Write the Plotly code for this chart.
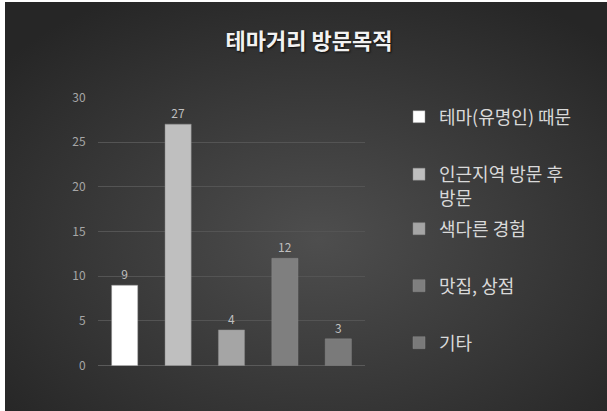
import base64
import plotly.graph_objects as go

W, H = 607, 411

categories = ["테마(유명인) 때문", "인근지역 방문 후<br>방문", "색다른 경험", "맛집, 상점", "기타"]
values = [9, 27, 4, 12, 3]
colors = ["#ffffff", "#bfbfbf", "#a5a5a5", "#7f7f7f", "#7a7a7a"]
y_ticks = [0, 5, 10, 15, 20, 25, 30]
x_keys = ["c1", "c2", "c3", "c4", "c5"]
title_text = "테마거리 방문목적"

# background radial gradient as an SVG image
svg = (
    '<svg xmlns="http://www.w3.org/2000/svg" width="602" height="409" preserveAspectRatio="none">'
    '<defs><radialGradient id="g" cx="52%" cy="58%" r="68%">'
    '<stop offset="0%" stop-color="#4e4e4e"/>'
    '<stop offset="100%" stop-color="#262626"/>'
    '</radialGradient></defs>'
    '<rect width="602" height="409" fill="url(#g)"/></svg>'
)
src = "data:image/svg+xml;base64," + base64.b64encode(svg.encode()).decode()

fig = go.Figure()

legend_y = [117, 172, 229, 286, 343]
legend_names = ["legend", "legend2", "legend3", "legend4", "legend5"]

for i, (cat, val, col) in enumerate(zip(categories, values, colors)):
    fig.add_trace(go.Bar(
        x=[x_keys[i]], y=[val], name=cat,
        marker=dict(color=col, line=dict(color="rgba(140,140,140,0.6)", width=0.8)),
        width=0.49,
        text=[str(val)], textposition="outside", cliponaxis=False,
        textfont=dict(color="#bfbfbf", size=12, family="Noto Sans CJK KR"),
        legend=legend_names[i],
    ))

layout_legends = {}
for i, ln in enumerate(legend_names):
    layout_legends[ln] = dict(
        x=(439 - 40) / W, xanchor="left",
        y=1 - legend_y[i] / H, yanchor="top" if i == 1 else "middle",
        bgcolor="rgba(0,0,0,0)",
        font=dict(color="#d9d9d9", size=18, family="Noto Sans CJK KR"),
        valign="top",
        borderwidth=0,
    )

# legend2 is two lines: anchor at top so first line center is at 172
layout_legends["legend2"]["y"] = 1 - (172 - 16) / H

fig.update_layout(
    width=W, height=H, autosize=False,
    margin=dict(l=0, r=0, t=0, b=0, pad=0, autoexpand=False),
    paper_bgcolor="#ffffff",
    plot_bgcolor="rgba(0,0,0,0)",
    barmode="overlay",
    showlegend=True,
    images=[dict(source=src, xref="paper", yref="paper",
                 x=5 / W, y=1 - 2 / H, sizex=1 - 5 / W, sizey=1 - 2 / H,
                 xanchor="left", yanchor="top", sizing="stretch", layer="below")],
    title=dict(text=title_text, x=309 / W, y=1 - 41 / H, xanchor="center", yanchor="middle",
               font=dict(size=22, color="#f2f2f2", family="Noto Sans CJK KR", weight=700,
                         shadow="1px 1px 2px rgba(0,0,0,0.8)")),
    xaxis=dict(domain=[98 / W, 365 / W], showticklabels=False, showgrid=False,
               zeroline=False, showline=False, fixedrange=True, automargin=False),
    yaxis=dict(domain=[1 - 365.7 / H, 1 - 97.3 / H], range=[0, 30],
               tickvals=y_ticks, showgrid=True, gridcolor="#545454", gridwidth=1,
               zeroline=True, zerolinecolor="#5a5a5a", zerolinewidth=1,
               ticks="outside", ticklen=9, tickcolor="rgba(0,0,0,0)",
               tickfont=dict(color="#a6a6a6", size=12, family="Noto Sans CJK KR"),
               fixedrange=True, automargin=False),
    **layout_legends,
)

fig.write_html("out.html")
